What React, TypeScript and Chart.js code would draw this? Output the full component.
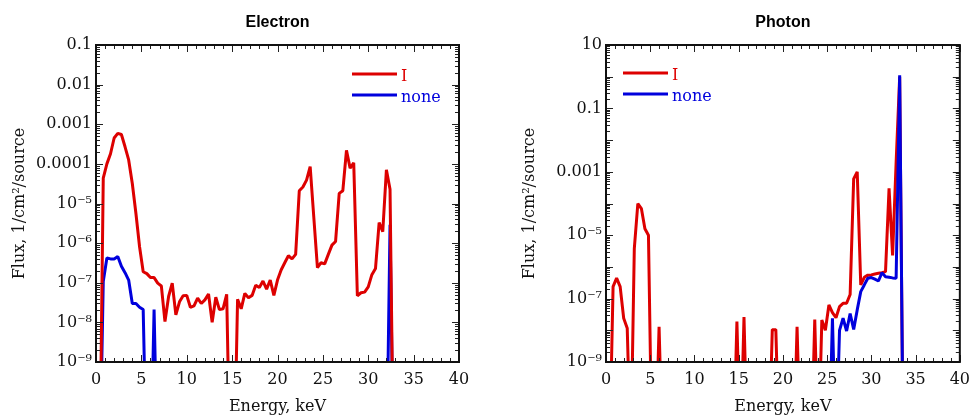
import React, { useEffect, useRef } from 'react';
import { Chart, registerables } from 'chart.js';

Chart.register(...registerables);

// value used for points that fall below the axis floor (drawn as a drop to the bottom)
const B = 1e-12;

const energyKeV = [
  0.4, 0.8, 1.2, 1.6, 2.0, 2.4, 2.8, 3.2, 3.6, 4.0,
  4.4, 4.8, 5.2, 5.6, 6.0, 6.4, 6.8, 7.2, 7.6, 8.0,
  8.4, 8.8, 9.2, 9.6, 10.0, 10.4, 10.8, 11.2, 11.6, 12.0,
  12.4, 12.8, 13.2, 13.6, 14.0, 14.4, 14.8, 15.2, 15.6, 16.0,
  16.4, 16.8, 17.2, 17.6, 18.0, 18.4, 18.8, 19.2, 19.6, 20.0,
  20.4, 20.8, 21.2, 21.6, 22.0, 22.4, 22.8, 23.2, 23.6, 24.0,
  24.4, 24.8, 25.2, 25.6, 26.0, 26.4, 26.8, 27.2, 27.6, 28.0,
  28.4, 28.8, 29.2, 29.6, 30.0, 30.4, 30.8, 31.2, 31.6, 32.0,
  32.4, 32.8, 33.2, 33.6,
];

const electronI = [
  B, 4.4e-5, 1.0e-4, 1.8e-4, 4.5e-4, 5.9e-4, 5.5e-4, 2.7e-4, 1.26e-4, 3.2e-5,
  5.6e-6, 8.1e-7, 1.9e-7, 1.7e-7, 1.35e-7, 1.35e-7, 9.8e-8, 8.3e-8, 1.05e-8, 4.5e-8,
  9.8e-8, 1.55e-8, 3.3e-8, 4.7e-8, 4.8e-8, 2.4e-8, 2.6e-8, 4.1e-8, 3.0e-8, 3.7e-8,
  5.2e-8, 1.0e-8, 4.3e-8, 2.1e-8, 2.2e-8, 5.1e-8, B, B, 3.8e-8, 2.2e-8,
  5.4e-8, 4.2e-8, 4.8e-8, 8.7e-8, 7.6e-8, 1.1e-7, 6.9e-8, 1.17e-7, 4.8e-8, 1.17e-7,
  2.1e-7, 3.2e-7, 4.8e-7, 4.0e-7, 5.2e-7, 2.1e-5, 2.6e-5, 3.9e-5, 8.5e-5, 4.5e-6,
  2.4e-7, 3.2e-7, 3.0e-7, 5.2e-7, 8.9e-7, 1.1e-6, 1.8e-5, 2.1e-5, 2.2e-4, 7.8e-5,
  1.07e-4, 4.7e-8, 5.6e-8, 5.8e-8, 7.9e-8, 1.6e-7, 2.3e-7, 3.3e-6, 1.95e-6, 7.1e-5,
  2.3e-5, B, B, B,
];

const electronNone = [
  B, 1.07e-7, 4.2e-7, 4.0e-7, 4.0e-7, 4.6e-7, 2.6e-7, 1.8e-7, 1.17e-7, 3.0e-8,
  3.0e-8, 2.4e-8, 2.1e-8, B, B, 2.1e-8, B, B, B, B,
  B, B, B, B, B, B, B, B, B, B,
  B, B, B, B, B, B, B, B, B, B,
  B, B, B, B, B, B, B, B, B, B,
  B, B, B, B, B, B, B, B, B, B,
  B, B, B, B, B, B, B, B, B, B,
  B, B, B, B, B, B, B, B, B, B,
  2.9e-6, B, B, B,
];

const photonI = [
  B, 2.4e-7, 4.4e-7, 2.4e-7, 2.4e-8, 1.17e-8, B, 3.8e-6, 1.0e-4, 6.9e-5,
  1.6e-5, 1.0e-5, B, B, 1.3e-8, B, B, B, B, B,
  B, B, B, B, B, B, B, B, B, B,
  B, B, B, B, B, B, 1.9e-8, B, 2.6e-8, B,
  B, B, B, B, B, B, 1.05e-8, 1.05e-8, B, B,
  B, B, B, 1.3e-8, B, B, B, B, 2.2e-8, B,
  2.1e-8, 1.0e-8, 6.3e-8, 3.6e-8, 2.5e-8, 5.6e-8, 7.1e-8, 7.1e-8, 1.35e-7, 6.0e-4,
  1.0e-3, 2.7e-7, 4.7e-7, 5.5e-7, 5.6e-7, 6.0e-7, 6.3e-7, 6.6e-7, 7.1e-7, 3.0e-4,
  2.3e-6, 2.0e-3, 1.0, B,
];

const photonNone = [
  B, B, B, B, B, B, B, B, B, B,
  B, B, B, B, B, B, B, B, B, B,
  B, B, B, B, B, B, B, B, B, B,
  B, B, B, B, B, B, B, B, B, B,
  B, B, B, B, B, B, B, B, B, B,
  B, B, B, B, B, B, B, B, B, B,
  B, B, B, 2.4e-8, B, 1.0e-8, 2.4e-8, 9.5e-9, 3.4e-8, 1.07e-8,
  4.4e-8, 1.66e-7, 2.7e-7, 4.4e-7, 4.6e-7, 4.1e-7, 3.6e-7, 6.6e-7, 4.9e-7, 4.7e-7,
  4.5e-7, 4.4e-7, 1.1, B,
];

const electronYTickValues = [1e-9, 1e-8, 1e-7, 1e-6, 1e-5, 1e-4, 1e-3, 1e-2, 1e-1];
const electronYTickLabels = ['10⁻⁹', '10⁻⁸', '10⁻⁷', '10⁻⁶', '10⁻⁵', '0.0001', '0.001', '0.01', '0.1'];
const photonYTickValues = [1e-9, 1e-7, 1e-5, 1e-3, 1e-1, 10];
const photonYTickLabels = ['10⁻⁹', '10⁻⁷', '10⁻⁵', '0.001', '0.1', '10'];

const RED = '#dd0000';
const BLUE = '#0000dd';
const SERIF = "'DejaVu Serif', serif";
const TEXT = '#111';

const X_MAJOR = 5;
const X_MINOR = 1;
const MAJOR_LEN = 7;
const MINOR_LEN = 4;

const frameTicksPlugin = {
  id: 'frameTicks',
  afterDatasetsDraw(chart: any) {
    const { ctx, chartArea } = chart;
    const { left, right, top, bottom } = chartArea;
    const xs = chart.scales.x;
    const ys = chart.scales.y;
    ctx.save();
    ctx.strokeStyle = '#222';
    ctx.lineWidth = 1;
    ctx.beginPath();
    for (let v = xs.min; v <= xs.max + 1e-9; v += X_MINOR) {
      const px = Math.round(xs.getPixelForValue(v)) + 0.5;
      const len = Math.abs(v % X_MAJOR) < 1e-9 ? MAJOR_LEN : MINOR_LEN;
      ctx.moveTo(px, bottom);
      ctx.lineTo(px, bottom - len);
      ctx.moveTo(px, top);
      ctx.lineTo(px, top + len);
    }
    const e0 = Math.round(Math.log10(ys.min));
    const e1 = Math.round(Math.log10(ys.max));
    for (let e = e0; e <= e1; e++) {
      for (let k = 1; k <= 9; k++) {
        const v = k * Math.pow(10, e);
        if (v > ys.max * 1.0001) break;
        const py = Math.round(ys.getPixelForValue(v)) + 0.5;
        const len = k === 1 ? MAJOR_LEN : MINOR_LEN;
        ctx.moveTo(left, py);
        ctx.lineTo(left + len, py);
        ctx.moveTo(right, py);
        ctx.lineTo(right - len, py);
      }
    }
    ctx.stroke();
    ctx.lineWidth = 2;
    ctx.strokeStyle = '#111';
    ctx.strokeRect(left, top, right - left, bottom - top);
    ctx.restore();
  },
};

const insideLegendPlugin = {
  id: 'insideLegend',
  afterDraw(chart: any, _args: any, opts: any) {
    const { ctx, chartArea } = chart;
    const x0 = opts.side === 'right' ? chartArea.right - opts.dx : chartArea.left + opts.dx;
    ctx.save();
    chart.data.datasets.forEach((ds: any, i: number) => {
      const y = chartArea.top + opts.dy + i * opts.rowGap;
      ctx.strokeStyle = ds.borderColor;
      ctx.lineWidth = 3;
      ctx.beginPath();
      ctx.moveTo(x0, y);
      ctx.lineTo(x0 + opts.lineLength, y);
      ctx.stroke();
      ctx.fillStyle = ds.borderColor;
      ctx.font = `16px ${SERIF}`;
      ctx.textAlign = 'left';
      ctx.textBaseline = 'alphabetic';
      ctx.fillText(ds.label, x0 + opts.lineLength + 4, y + 7);
    });
    ctx.restore();
  },
};

type Series = { label: string; values: number[]; color: string; order: number };
type PanelProps = {
  title: string;
  left: number;
  width: number;
  padRight: number;
  yMin: number;
  yMax: number;
  yTickValues: number[];
  yTickLabels: string[];
  series: Series[];
  legend: { side: 'left' | 'right'; dx: number; dy: number; rowGap: number; lineLength: number };
};

function Panel(p: PanelProps) {
  const ref = useRef<HTMLCanvasElement>(null);
  useEffect(() => {
    const font = { family: SERIF, size: 16 };
    const chart = new Chart(ref.current as HTMLCanvasElement, {
      type: 'line',
      data: {
        datasets: p.series.map((s) => ({
          label: s.label,
          data: energyKeV.map((e, i) => ({ x: e, y: s.values[i] })),
          borderColor: s.color,
          backgroundColor: s.color,
          borderWidth: 3,
          pointRadius: 0,
          tension: 0,
          fill: false,
          borderJoinStyle: 'bevel',
          order: s.order,
        })),
      },
      options: {
        animation: false,
        responsive: false,
        maintainAspectRatio: false,
        devicePixelRatio: 1,
        events: [],
        layout: { padding: { left: 0, right: p.padRight, top: 0, bottom: 0 } },
        plugins: {
          legend: { display: false },
          tooltip: { enabled: false },
          title: {
            display: true,
            text: p.title,
            fullSize: false,
            color: '#000',
            font: { family: "'Liberation Sans', Arial, sans-serif", size: 16, weight: 'bold', lineHeight: 1.2 },
            padding: { top: 12.5, bottom: 13.3 },
          },
          insideLegend: p.legend,
        } as any,
        scales: {
          x: {
            type: 'linear',
            min: 0,
            max: 40,
            grid: { display: false, drawTicks: false },
            border: { display: false },
            ticks: { stepSize: X_MAJOR, font, color: TEXT, padding: 8, maxRotation: 0, autoSkip: false },
            title: { display: true, text: 'Energy, keV', font, color: TEXT, padding: { top: 0, bottom: 1 } },
            afterFit: (s: any) => {
              s.height = 55;
            },
          },
          y: {
            type: 'logarithmic',
            min: p.yMin,
            max: p.yMax,
            grid: { display: false, drawTicks: false },
            border: { display: false },
            ticks: {
              autoSkip: false,
              padding: 4,
              font,
              color: TEXT,
              callback: (_v: any, i: number) => p.yTickLabels[i] ?? '',
            },
            afterBuildTicks: (s: any) => {
              s.ticks = p.yTickValues.map((v) => ({ value: v }));
            },
            title: { display: true, text: 'Flux, 1/cm²/source', font, color: TEXT, padding: { top: 10, bottom: 0 } },
            afterFit: (s: any) => {
              s.width = 96;
            },
          },
        },
      } as any,
      plugins: [frameTicksPlugin, insideLegendPlugin],
    });
    return () => chart.destroy();
  }, []);
  return (
    <canvas
      ref={ref}
      width={p.width}
      height={417}
      style={{ position: 'absolute', left: p.left, top: 0, width: p.width, height: 417 }}
    />
  );
}

export default function App() {
  return (
    <div style={{ position: 'absolute', left: 0, top: 0, width: 978, height: 417, background: '#fff', overflow: 'hidden' }}>
      <Panel
        title="Electron"
        left={0}
        width={489}
        padRight={30}
        yMin={1e-9}
        yMax={0.1}
        yTickValues={electronYTickValues}
        yTickLabels={electronYTickLabels}
        series={[
          { label: 'I', values: electronI, color: RED, order: 0 },
          { label: 'none', values: electronNone, color: BLUE, order: 1 },
        ]}
        legend={{ side: 'right', dx: 107, dy: 29, rowGap: 21, lineLength: 45 }}
      />
      <Panel
        title="Photon"
        left={510}
        width={468}
        padRight={10}
        yMin={1e-9}
        yMax={10}
        yTickValues={photonYTickValues}
        yTickLabels={photonYTickLabels}
        series={[
          { label: 'I', values: photonI, color: RED, order: 1 },
          { label: 'none', values: photonNone, color: BLUE, order: 0 },
        ]}
        legend={{ side: 'left', dx: 17, dy: 28, rowGap: 21, lineLength: 45 }}
      />
    </div>
  );
}
